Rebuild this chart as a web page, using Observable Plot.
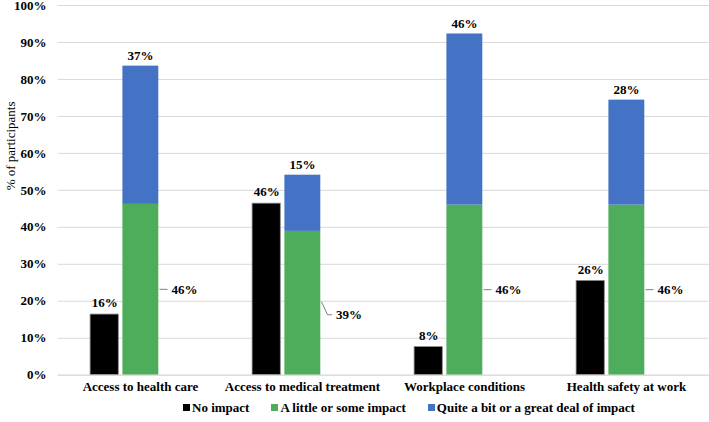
<!DOCTYPE html>
<html>
<head>
<meta charset="utf-8">
<script src="https://cdn.jsdelivr.net/npm/d3@7"></script>
<script src="https://cdn.jsdelivr.net/npm/@observablehq/plot@0.6"></script>
<style>
  html, body { margin: 0; padding: 0; background: #fff; }
  #wrap { position: relative; width: 709px; height: 422px; font-family: 'Liberation Serif', 'DejaVu Serif', serif; }
  #legend { position: absolute; left: 183px; top: 400px; display: flex; gap: 22px; font-family: 'Liberation Serif', 'DejaVu Serif', serif; font-size: 13px; font-weight: bold; color: #000; white-space: nowrap; }
  #legend span.sw { display: inline-block; width: 7px; height: 7px; margin-right: 2px; vertical-align: 1px; }
  svg text { font-family: 'Liberation Serif', 'DejaVu Serif', serif; }
</style>
</head>
<body>
<div id="wrap"><div id="chart"></div><div id="legend"></div></div>
<script>
const categories = ["Access to health care", "Access to medical treatment", "Workplace conditions", "Health safety at work"];
const seriesNames = ["No impact", "A little or some impact", "Quite a bit or a great deal of impact"];
const seriesColors = ["#000000", "#4EAD5B", "#4472C4"];
const noImpact = [16.4, 46.4, 7.6, 25.5];
const someImpact = [46.2, 38.9, 46.0, 46.0];
const greatImpact = [37.4, 15.2, 46.3, 28.4];
const yTicks = [0, 10, 20, 30, 40, 50, 60, 70, 80, 90, 100];
const yTitle = "% of participants";

const rows = categories.map((c, i) => ({cat: c, no: noImpact[i], some: someImpact[i], great: greatImpact[i]}));
const stacked = [];
rows.forEach(r => {
  stacked.push({cat: r.cat, series: seriesNames[1], value: r.some});
  stacked.push({cat: r.cat, series: seriesNames[2], value: r.great});
});
const pct = v => Math.round(v) + "%";

const W = 709, H = 396, mL = 57.6, mR = 0.2, mT = 5, mB = 21.3;
const FONT = "'Liberation Serif', 'DejaVu Serif', serif";

// leader lines for the green labels (drawn through the plot's own scales)
function leaders(index, scales) {
  const g = d3.create("svg:g").attr("stroke", "#7f7f7f").attr("fill", "none").attr("stroke-width", 1);
  rows.forEach((r, i) => {
    const x0 = scales.x(r.cat);
    const yMid = scales.y(r.some / 2);
    if (i === 1) {
      const yStart = yMid - 1, yEnd = yMid + 12;
      g.append("path").attr("d", `M${x0 + 100.5},${yStart}L${x0 + 106.5},${yEnd}L${x0 + 111},${yEnd}`);
    } else {
      g.append("path").attr("d", `M${x0 + 100.5},${yMid}L${x0 + 108.5},${yMid}`);
    }
  });
  return g.node();
}

const chart = Plot.plot({
  width: W, height: H,
  marginLeft: mL, marginRight: mR, marginTop: mT, marginBottom: mB,
  style: `font-family: ${FONT}; font-size: 13px; background: #fff; color: #000; overflow: visible;`,
  x: {domain: categories, padding: 0, label: null},
  y: {domain: [0, 100], label: null},
  color: {domain: seriesNames.slice(1), range: seriesColors.slice(1)},
  marks: [
    Plot.gridY(yTicks, {stroke: "#d9d9d9", strokeOpacity: 1}),
    Plot.axisY(yTicks, {tickSize: 0, tickPadding: 11.5, tickFormat: d => d + "%", fontWeight: "bold", fontSize: 13, fontFamily: FONT, label: null}),
    Plot.axisX({tickSize: 0, tickPadding: 7, fontWeight: "bold", fontSize: 13, fontFamily: FONT, label: null}),
    Plot.text([yTitle], {frameAnchor: "left", rotate: -90, dx: -47.6, text: d => d, fontSize: 13, fontFamily: FONT}),
    Plot.barY(rows, {x: "cat", y: "no", fill: seriesColors[0], stroke: "#8a8a8a", strokeWidth: 0.8, insetLeft: 31.1, insetRight: 102.7}),
    Plot.barY(stacked, {x: "cat", y: "value", fill: "series", insetLeft: 63.4, insetRight: 62.7}),
    Plot.ruleY([0], {stroke: "#d9d9d9"}),
    leaders,
    Plot.text(rows, {x: "cat", y: "no", text: d => pct(d.no), dx: -35.8, dy: -11.5, fontWeight: "bold", fontSize: 13, fontFamily: FONT}),
    Plot.text(rows, {x: "cat", y: d => d.some + d.great, text: d => pct(d.great), dy: -10.5, fontWeight: "bold", fontSize: 13, fontFamily: FONT}),
    Plot.text(rows.filter((d, i) => i !== 1), {x: "cat", y: d => d.some / 2, text: d => pct(d.some), dx: 31, textAnchor: "start", fontWeight: "bold", fontSize: 13, fontFamily: FONT}),
    Plot.text(rows.filter((d, i) => i === 1), {x: "cat", y: d => d.some / 2, text: d => pct(d.some), dx: 33.5, dy: 12, textAnchor: "start", fontWeight: "bold", fontSize: 13, fontFamily: FONT})
  ]
});
document.getElementById("chart").appendChild(chart);

const legend = d3.select("#legend");
seriesNames.forEach((s, i) => {
  const item = legend.append("div");
  item.append("span").attr("class", "sw").style("background", seriesColors[i]);
  item.append("span").text(s);
});
</script>
</body>
</html>
